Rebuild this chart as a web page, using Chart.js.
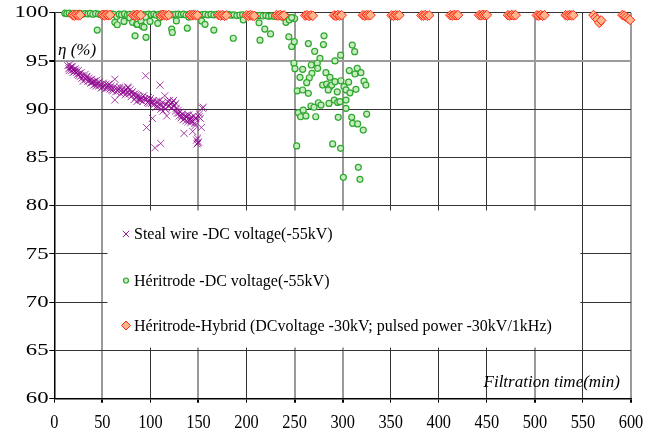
<!DOCTYPE html>
<html><head><meta charset="utf-8">
<script src="https://cdn.jsdelivr.net/npm/chart.js@4"></script>
<style>html,body{margin:0;padding:0;background:#fff}#wrap{width:658px;height:433px}</style>
</head><body><div id="wrap"><canvas id="c" width="658" height="433"></canvas></div>
<script>
// ---------- DATA ----------
const xTicks = [0,50,100,150,200,250,300,350,400,450,500,550,600];
const yTicks = [60,65,70,75,80,85,90,95,100];

const seriesNames = [
  "Steal wire -DC voltage(-55kV)",
  "Héritrode -DC voltage(-55kV)",
  "Héritrode-Hybrid (DCvoltage -30kV; pulsed power -30kV/1kHz)"
];

// Steal wire - DC voltage
const steelX = [14,15,16,17,18,19,20,21,22,23,24,25,26,27,28,29,30,31,32,33,34,35,36,37,38,39,40,41,42,43,44,45,46,47,48,50,51,52,54,55,56,58,59,60,62,63,63,64,65,66,68,69,70,71,72,73,74,75,76,77,78,79,80,81,82,83,84,85,86,87,88,89,90,91,92,94,95,96,96,97,98,99,100,101,102,103,104,104.7,106,107,108,110,110.7,110,111,112,113,114,115,116,117,118,119,120,121,122,123,124,125,126,127,128,129,130,131,132,133,134,135,136,137,138,139,140,141,142,143,144,145,146,147,148,148.5,149,150,151,152,153,154,155,
  15.5,17.5,19.5,22.5,25.5,28.5,33.5,38.5,43.5,49,53,57,61,67,72.5,76.5,80.5,85.5,89.5,93,98.5,102.5,105.5,109,112.5,115.5,119.5,123.5,126.5,129.5,132.5,135.5,138.5,141.5,144.5,147.5,150.5,149.5,146.5,142.5];
const steelY = [94.5,94.2,94.6,94.3,94.0,94.4,94.1,93.9,94.2,93.8,93.6,94.0,93.7,93.4,93.8,93.5,92.9,93.3,93.6,93.1,93.4,92.9,93.2,93.0,92.7,93.1,92.8,92.5,92.9,92.6,93.0,92.7,92.4,92.8,92.5,92.3,92.7,92.4,92.6,92.2,92.5,92.1,92.4,92.0,92.3,93.1,90.95,91.8,92.2,91.9,92.3,91.6,92.0,91.7,92.2,91.9,91.5,92.1,91.8,92.2,91.6,92.0,91.3,91.8,91.5,91.0,91.6,91.2,90.8,91.4,91.0,91.3,90.9,91.2,90.8,91.1,93.47,88.1,91.0,90.7,91.2,90.9,91.1,90.6,89.05,90.9,90.5,86.0,90.8,90.3,90.7,92.5,86.45,90.4,90.0,90.4,89.8,90.2,91.4,90.5,89.3,90.8,90.3,90.9,90.6,90.1,90.7,90.9,90.4,89.8,90.1,89.6,89.9,89.3,89.7,89.1,89.5,88.9,87.5,89.3,88.8,89.2,88.7,89.4,89.0,88.6,89.2,87.7,89.3,88.5,89.0,86.8,86.4,87.0,86.6,89.5,89.05,88.1,90.1,90.2,
  94.0,94.4,93.8,94.0,93.5,93.2,93.3,92.8,92.4,92.2,92.1,92.6,91.9,92.1,91.8,92.3,91.7,91.5,91.0,91.4,90.6,90.7,90.2,90.9,90.7,90.0,90.4,90.3,90.6,89.6,89.3,89.0,89.4,88.9,88.8,89.1,89.2,86.5,88.3,88.8];

// Héritrode - DC voltage
const heriDcX = [11,13,15.5,18,21,24,26.5,29,32,35,37.5,40,43,46,48.5,51,54,57,59.5,62,65,67.5,70,73,76,78.5,81,84,87,89.5,92,95,98,101,103.5,106,109,112,115,118,120.5,123,126,129,132,134.5,137,140,143,146,149,152,154.5,157,160,163,166,169,172,175,178,181,184,187,190,193,196,199,202,205,208,211,214,217,220,223,226,229,232,235,238,241,244,247,250,
  78.5,95,110,140,
  44.7,63,65.5,72.5,81.5,84,85.7,86.4,90.2,91.6,93.3,95.4,99.6,107.6,122.1,122.8,127,138.4,153.3,156.8,166,186.2,196.6,213,214,219,225,241,244,244.5,247,247,249.7,
  249.3,250.4,255.6,252.8,258.4,264.3,280.6,280,270.9,276.4,267.4,273.6,274,282.6,268,265.3,262.6,258.4,264.3,279.2,283.4,286.8,285,288.6,292,294.4,298.2,301.4,303.5,306.9,312.8,315.2,319,322.2,324.2,306.2,313.8,307.6,310,312.5,297.9,292,286.8,
  267,270.2,274.7,277.5,285.8,291.3,294.8,297.2,303.5,303.5,253.8,256.3,261.8,259,272,295.4,309.4,310.4,315.6,321.4,325,252.2,289.6,297.9,316.3,300.7,318];
const heriDcY = [99.95,99.9,99.95,99.85,99.92,99.88,99.93,99.85,99.9,99.87,99.92,99.84,99.9,99.86,99.8,99.9,99.85,99.78,99.88,99.82,99.6,99.85,99.8,99.88,99.75,99.83,99.7,99.86,99.8,99.72,99.84,99.78,99.85,99.8,99.86,99.75,99.82,99.87,99.8,99.72,99.84,99.78,99.83,99.85,99.8,99.86,99.76,99.82,99.85,99.78,99.82,99.75,99.8,99.84,99.77,99.82,99.78,99.83,99.74,99.8,99.76,99.82,99.74,99.78,99.7,99.75,99.78,99.72,99.76,99.7,99.74,99.68,99.72,99.66,99.7,99.64,99.68,99.62,99.66,99.6,99.55,99.62,99.5,99.48,99.4,
  99.45,99.55,99.5,99.55,
  98.2,99.0,98.75,99.1,99.0,97.6,98.8,98.8,99.14,98.6,98.5,97.45,99.1,98.9,98.3,97.95,99.15,98.4,99.14,98.8,98.2,97.35,99.25,98.95,97.15,98.3,97.8,99.0,97.5,99.25,96.5,99.5,97.0,
  94.76,94.2,93.3,91.9,94.13,96.8,97.6,96.7,96.0,95.27,94.58,94.76,94.24,93.78,93.72,93.26,92.75,91.99,91.65,92.5,92.6,92.33,92.0,92.5,92.85,91.8,92.95,92.33,92.0,94.0,93.65,94.24,93.78,92.9,92.5,92.8,92.06,91.7,96.65,95.96,95.6,95.0,93.3,
  90.33,90.2,90.67,90.43,90.6,90.95,90.7,90.78,90.95,90.09,89.64,89.22,89.3,89.9,89.22,89.16,89.16,88.54,88.47,87.84,89.5,86.19,86.4,85.95,83.98,82.94,82.73];

// Héritrode - Hybrid
const hybridX = [19,21,23,25,27,  50,52,54,56,58,  82,84,86,88,90,  111,113,115,117,119,  141,143,145,147,149,  171,173,175,177,179,  200,202,204,206,208,  231,233,235,237,239,  261,263,265,267,269,  291,293,295,297,299,  321,323,325,327,329,  351,353,355,357,359,  382,384,386,388,390,  412,414,416,418,420,  442,444,446,448,450,  472,474,476,478,480,  502,504,506,508,510,  532,534,536,538,540,  561,563,565,567,569,  591,593,595,597,599];
const hybridY = [99.75,99.7,99.78,99.72,99.76,  99.76,99.72,99.78,99.74,99.76,  99.74,99.7,99.78,99.72,99.75,  99.72,99.78,99.74,99.7,99.76,  99.76,99.72,99.78,99.74,99.73,  99.74,99.7,99.76,99.68,99.72,  99.72,99.68,99.75,99.7,99.66,  99.74,99.7,99.76,99.68,99.72,  99.7,99.74,99.66,99.72,99.68,  99.72,99.68,99.76,99.7,99.74,  99.74,99.7,99.76,99.72,99.75,  99.72,99.68,99.75,99.7,99.74,  99.72,99.7,99.76,99.68,99.73,  99.74,99.7,99.76,99.72,99.75,  99.75,99.72,99.78,99.74,99.76,  99.74,99.7,99.76,99.72,99.75,  99.72,99.7,99.76,99.68,99.74,  99.74,99.7,99.76,99.72,99.75,  99.76,99.5,99.3,98.95,99.2,  99.76,99.7,99.55,99.4,99.25];

// ---------- STYLE / LAYOUT ----------
const toPts = (xs, ys) => xs.map((v, i) => ({x: v, y: ys[i]}));
const GRAY_X = [50,150,250,300,500,600];
const GRAY_Y = [95];

const overlay = {
  id: 'overlay',
  beforeDatasetsDraw(chart) {
    const {ctx, scales: {x, y}} = chart;
    ctx.save();
    const l = x.getPixelForValue(55.3), r = x.getPixelForValue(547.3);
    const t = y.getPixelForValue(79.5), b = y.getPixelForValue(65.3);
    ctx.fillStyle = '#fff';
    ctx.fillRect(l, t, r - l, b - t);
    const rows = [234, 280.5, 325.5];
    const styles = [
      {pointStyle: 'crossRot', radius: 4.5, stroke: 'rgba(140,0,140,0.9)', fill: 'rgba(0,0,0,0)', bw: 1},
      {pointStyle: 'circle', radius: 2.5, stroke: '#2ea62e', fill: '#c6ecc0', bw: 1.2},
      {pointStyle: 'rectRot', radius: 4.5, stroke: '#ff2a1a', fill: '#ffb489', bw: 1}
    ];
    ctx.font = "16px 'Liberation Serif'";
    ctx.textBaseline = 'middle';
    ctx.textAlign = 'left';
    rows.forEach((py, i) => {
      const s = styles[i];
      ctx.strokeStyle = s.stroke; ctx.fillStyle = s.fill; ctx.lineWidth = s.bw;
      Chart.helpers.drawPoint(ctx, {pointStyle: s.pointStyle, radius: s.radius, rotation: 0, borderWidth: s.bw}, 126, py);
      ctx.fillStyle = '#000';
      ctx.fillText(seriesNames[i], 134, py + 1);
    });
    ctx.restore();
  },
  afterDraw(chart) {
    const {ctx, scales: {x, y}} = chart;
    ctx.save();
    ctx.fillStyle = '#000';
    ctx.font = "16px 'Liberation Serif'";
    ctx.textAlign = 'right';
    ctx.textBaseline = 'middle';
    yTicks.forEach(v => {
      const py = y.getPixelForValue(v);
      ctx.save();
      ctx.translate(48.5, py + 0.5);
      ctx.scale(1.42, 1);
      ctx.fillText(String(v), 0, 0);
      ctx.restore();
    });
    ctx.font = "19px 'Liberation Serif'";
    ctx.textAlign = 'center';
    xTicks.forEach(v => {
      const px = x.getPixelForValue(v);
      ctx.save();
      ctx.translate(px, 423);
      ctx.scale(0.86, 1);
      ctx.fillText(String(v), 0, 0);
      ctx.restore();
    });
    ctx.font = "italic 17px 'Liberation Serif'";
    ctx.textAlign = 'left';
    ctx.fillText('η (%)', 58, 51);
    ctx.textAlign = 'right';
    ctx.fillText('Filtration time(min)', 620, 383);
    ctx.restore();
  }
};

new Chart(document.getElementById('c'), {
  type: 'scatter',
  data: {
    datasets: [
      {label: seriesNames[2], data: toPts(hybridX, hybridY), order: 0, clip: false,
       pointStyle: 'rectRot', pointRadius: 4.8, borderColor: '#ff2a1a', backgroundColor: '#ffb489', borderWidth: 1},
      {label: seriesNames[1], data: toPts(heriDcX, heriDcY), order: 1, clip: false,
       pointStyle: 'circle', pointRadius: 3, borderColor: '#2ea62e', backgroundColor: '#c6ecc0', borderWidth: 1.2},
      {label: seriesNames[0], data: toPts(steelX, steelY), order: 2, clip: false,
       pointStyle: 'crossRot', pointRadius: 5, borderColor: 'rgba(140,0,140,0.75)', backgroundColor: 'rgba(140,0,140,0.75)', borderWidth: 1}
    ]
  },
  options: {
    responsive: false,
    animation: false,
    events: [],
    layout: {padding: {left: 0, right: 27, top: 12.7, bottom: 0}},
    plugins: {legend: {display: false}, tooltip: {enabled: false}},
    scales: {
      x: {
        type: 'linear', min: 0, max: 600,
        afterBuildTicks: s => { s.ticks = xTicks.map(v => ({value: v})); },
        afterFit: s => { s.height = 433 - 398.7; },
        ticks: {display: false},
        border: {display: true, color: '#000', width: 1.5},
        grid: {
          color: c => GRAY_X.includes(c.tick && c.tick.value) ? '#9a9a9a' : '#333',
          lineWidth: c => GRAY_X.includes(c.tick && c.tick.value) ? 2 : 1,
          tickColor: '#000', tickLength: 4, drawTicks: true
        }
      },
      y: {
        type: 'linear', min: 60, max: 100,
        afterBuildTicks: s => { s.ticks = yTicks.map(v => ({value: v})); },
        afterFit: s => { s.width = 54.3; },
        ticks: {display: false},
        border: {display: true, color: '#000', width: 1.5},
        grid: {
          color: c => GRAY_Y.includes(c.tick && c.tick.value) ? '#9a9a9a' : '#333',
          lineWidth: c => GRAY_Y.includes(c.tick && c.tick.value) ? 2 : 1,
          tickColor: '#000', tickLength: 5, drawTicks: true
        }
      }
    }
  },
  plugins: [overlay]
});
</script>
</body></html>
